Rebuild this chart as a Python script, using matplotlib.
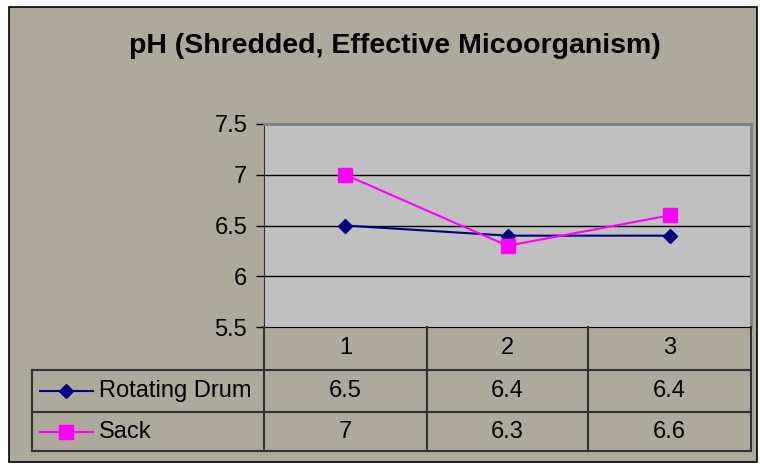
import matplotlib.pyplot as plt
from matplotlib.patches import Rectangle
from matplotlib.lines import Line2D

plt.rcParams['font.family'] = ['Liberation Sans', 'DejaVu Sans']

categories = ['1', '2', '3']
drum = [6.5, 6.4, 6.4]
sack = [7, 6.3, 6.6]
series_names = ['Rotating Drum', 'Sack']
yticks = [5.5, 6, 6.5, 7, 7.5]

W, H = 760, 470
fig = plt.figure(figsize=(W / 100, H / 100), dpi=100, facecolor='white')


def fx(x):
    return x / W


def fy(y):
    return 1 - y / H


FS = 17

bg = '#ADAA9B'
fig.add_artist(Rectangle((fx(9), fy(462)), fx(757) - fx(9), fy(7) - fy(462),
                         transform=fig.transFigure, facecolor=bg,
                         edgecolor='black', lw=1.2, zorder=-10))

fig.text(fx(395), fy(46), 'pH (Shredded, Effective Micoorganism)',
         ha='center', va='center', fontsize=20.5, fontweight='bold')

# plot area
L, R, T, B = 264, 751, 124, 327
ax = fig.add_axes([fx(L), fy(B), fx(R) - fx(L), fy(T) - fy(B)])
ax.set_facecolor('#C0C0C0')
ax.set_xlim(0.5, 3.5)
ax.set_ylim(5.5, 7.5)
ax.set_yticks(yticks)
ax.set_yticklabels([f'{v:g}' for v in yticks], fontsize=FS)
ax.set_xticks([])
ax.tick_params(axis='y', length=6, width=1, pad=6)
for v in yticks[1:-1]:
    ax.axhline(v, color='black', lw=1)
for s in ['top', 'right']:
    ax.spines[s].set_color('#808080')
    ax.spines[s].set_linewidth(2)
ax.spines['left'].set_color('#333333')
ax.spines['bottom'].set_color('black')

xs = [1, 2, 3]
ax.plot(xs, drum, color='#000080', lw=1.5, marker='D', markersize=7.5)
ax.plot(xs, sack, color='#FF00FF', lw=1.5, marker='s', markersize=9.4)

# data table below the plot
cols = [264, 427, 588, 751]
rows = [327, 370, 412, 451]
leg_left = 32
lc = '#333333'


def hline(y, x0, x1):
    fig.add_artist(Line2D([fx(x0), fx(x1)], [fy(y), fy(y)], color=lc,
                          lw=1.5, transform=fig.transFigure))


def vline(x, y0, y1):
    fig.add_artist(Line2D([fx(x), fx(x)], [fy(y0), fy(y1)], color=lc,
                          lw=1.5, transform=fig.transFigure))


hline(rows[1], leg_left, cols[-1])
hline(rows[2], leg_left, cols[-1])
hline(rows[3], leg_left, cols[-1])
for c in cols:
    vline(c, rows[0], rows[3])
vline(leg_left, rows[1], rows[3])

for i, cat in enumerate(categories):
    xc = (cols[i] + cols[i + 1]) / 2
    fig.text(fx(xc), fy((rows[0] + rows[1]) / 2), cat, ha='center',
             va='center', fontsize=FS)

styles = [('#000080', 'D', 7.5), ('#FF00FF', 's', 9.4)]
for r, (name, vals) in enumerate(zip(series_names, [drum, sack])):
    yc = (rows[r + 1] + rows[r + 2]) / 2
    color, mk, ms = styles[r]
    fig.add_artist(Line2D([fx(40), fx(93)], [fy(yc), fy(yc)], color=color,
                          lw=1.5, transform=fig.transFigure))
    fig.add_artist(Line2D([fx(66)], [fy(yc)], color=color, marker=mk,
                          markersize=ms, transform=fig.transFigure))
    fig.text(fx(99), fy(yc), name, ha='left', va='center', fontsize=FS)
    for i, v in enumerate(vals):
        xc = (cols[i] + cols[i + 1]) / 2
        fig.text(fx(xc), fy(yc), f'{v:g}', ha='center', va='center',
                 fontsize=FS)

fig.savefig('out.png', dpi=100, facecolor='white')
